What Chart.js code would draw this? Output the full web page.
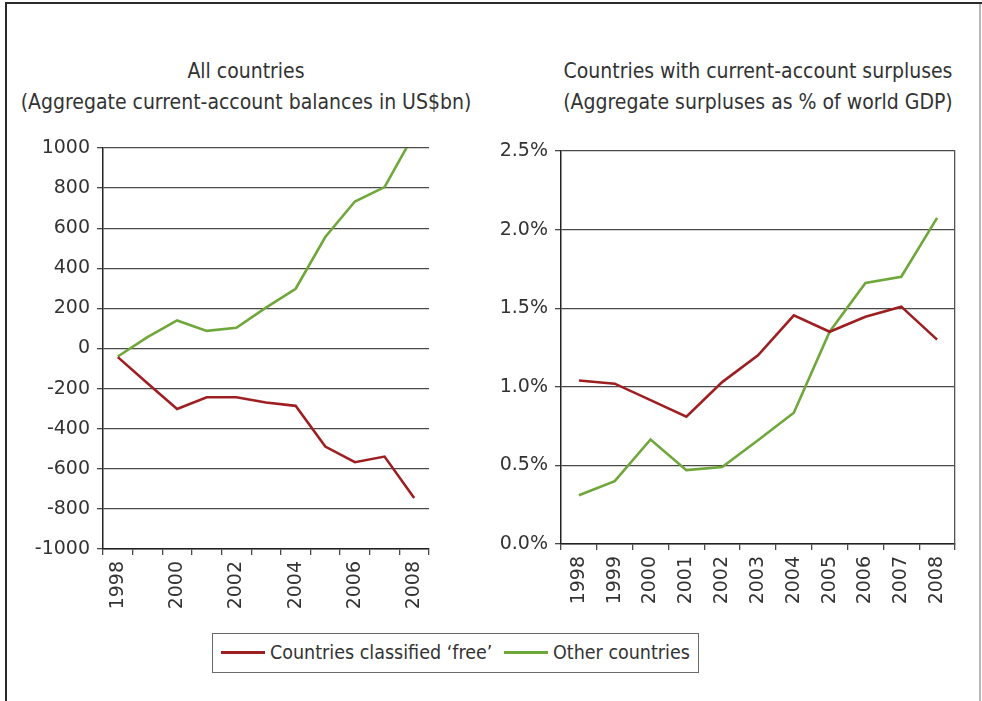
<!DOCTYPE html>
<html>
<head>
<meta charset="utf-8">
<script src="https://cdn.jsdelivr.net/npm/chart.js@4.4.1/dist/chart.umd.min.js"></script>
<style>
    html, body { margin: 0; padding: 0; background: #fff; }
    #frame {
        position: absolute; left: 0; top: 0; width: 982px; height: 701px; overflow: hidden;
    }
    .edge-left { position: absolute; left: 5px; top: 2px; width: 2px; height: 699px; background: #2b2b2b; }
    .edge-top { position: absolute; left: 5px; top: 2px; width: 977px; height: 2px; background: #2b2b2b; }
    .edge-right { position: absolute; left: 979px; top: 4px; width: 2px; height: 697px; background: #b5b5b5; }
    .title {
        position: absolute; top: 56px; width: 500px; text-align: center;
        font-family: "Liberation Sans Narrow", "DejaVu Sans Condensed", sans-serif;
        font-size: 21px; line-height: 31px; color: #333;
    }
    .chart-box { position: absolute; top: 120px; height: 510px; }
    #legend {
        position: absolute; left: 212px; top: 633px; width: 485px; height: 38px;
        border: 1.5px solid #6a6a6a; box-sizing: content-box;
        font-family: "Liberation Sans Narrow", "DejaVu Sans Condensed", sans-serif;
        font-size: 19.5px; color: #333;
    }
    .lg-item { position: absolute; top: 0; height: 38px; line-height: 38px; white-space: nowrap; }
    .lg-line { display: inline-block; width: 44px; height: 3px; vertical-align: middle; margin-right: 5px; position: relative; top: -1px; }
</style>
</head>
<body>
<div id="frame">
    <div class="edge-left"></div>
    <div class="edge-top"></div>
    <div class="edge-right"></div>

    <div class="title" style="left: -4px;">All countries<br>(Aggregate current-account balances in US$bn)</div>
    <div class="title" style="left: 508px;">Countries with current-account surpluses<br>(Aggregate surpluses as % of world GDP)</div>

    <div class="chart-box" style="left: 0; width: 470px;"><canvas id="leftChart" width="470" height="510"></canvas></div>
    <div class="chart-box" style="left: 470px; width: 512px;"><canvas id="rightChart" width="512" height="510"></canvas></div>

    <div id="legend"></div>
</div>

<script>
// ===== dados =====
const years = ['1998', '1999', '2000', '2001', '2002', '2003', '2004', '2005', '2006', '2007', '2008'];

// US$bn
const freeBalances = [-43, -173, -302, -243, -243, -269, -286, -489, -567, -539, -746];
const otherBalances = [-40, 57, 140, 88, 103, 204, 298, 556, 733, 805, 1070];

// % do PIB mundial
const freeSurplus = [1.04, 1.02, 0.915, 0.81, 1.03, 1.20, 1.455, 1.35, 1.445, 1.51, 1.30];
const otherSurplus = [0.31, 0.40, 0.665, 0.47, 0.49, 0.66, 0.835, 1.35, 1.66, 1.70, 2.075];

const seriesNames = ['Countries classified \u2018free\u2019', 'Other countries'];
const seriesColors = ['#9e1f22', '#6fa73b'];

const leftTicks = { min: -1000, max: 1000, step: 200 };
const rightTicks = { min: 0, max: 2.5, step: 0.5 };

// ===== estilo comum =====
const tickFont = { family: 'DejaVu Sans', size: 19 };
const gridColor = '#4a4a4a';

function lineDataset(label, data, color) {
    return {
        label: label,
        data: data,
        borderColor: color,
        backgroundColor: color,
        borderWidth: 2.6,
        pointRadius: 0,
        tension: 0,
        fill: false
    };
}

function xAxis(everyOther, height) {
    return {
        type: 'category',
        offset: true,
        grid: { offset: true, drawOnChartArea: false, drawTicks: true, tickLength: 6, color: gridColor, lineWidth: 1.3 },
        border: { display: true, color: '#222', width: 1.5 },
        ticks: {
            autoSkip: false,
            maxRotation: 90,
            minRotation: 90,
            padding: 6,
            color: '#333',
            font: tickFont,
            callback: function (val, i) {
                return (everyOther && i % 2 === 1) ? '' : years[i];
            }
        },
        afterFit: function (scale) { scale.height = height; }
    };
}

function yAxis(range, width, fmt) {
    return {
        min: range.min,
        max: range.max,
        grid: { drawTicks: true, tickLength: 6, color: gridColor, lineWidth: 1.3 },
        border: { display: true, color: '#222', width: 1.5 },
        ticks: {
            stepSize: range.step,
            padding: 7,
            color: '#333',
            font: tickFont,
            callback: fmt
        },
        afterFit: function (scale) { scale.width = width; }
    };
}

const commonOptions = {
    responsive: false,
    animation: false,
    plugins: { legend: { display: false }, tooltip: { enabled: false } }
};

// ===== grafico esquerdo =====
new Chart(document.getElementById('leftChart'), {
    type: 'line',
    data: {
        labels: years,
        datasets: [
            lineDataset(seriesNames[0], freeBalances, seriesColors[0]),
            lineDataset(seriesNames[1], otherBalances, seriesColors[1])
        ]
    },
    options: Object.assign({}, commonOptions, {
        layout: { padding: { top: 28, right: 41, bottom: 0, left: 0 } },
        scales: {
            x: xAxis(true, 81),
            y: yAxis(leftTicks, 103, function (v) { return String(v); })
        }
    })
});

// ===== grafico direito =====
new Chart(document.getElementById('rightChart'), {
    type: 'line',
    data: {
        labels: years,
        datasets: [
            lineDataset(seriesNames[0], freeSurplus, seriesColors[0]),
            lineDataset(seriesNames[1], otherSurplus, seriesColors[1])
        ]
    },
    options: Object.assign({}, commonOptions, {
        layout: { padding: { top: 31, right: 26, bottom: 0, left: 0 } },
        scales: {
            x: xAxis(false, 86),
            y: yAxis(rightTicks, 91, function (v) { return v.toFixed(1) + '%'; }),
            // só para desenhar a borda direita
            y2: {
                position: 'right',
                min: rightTicks.min,
                max: rightTicks.max,
                grid: { drawOnChartArea: false, drawTicks: false },
                border: { display: true, color: '#555', width: 1.3 },
                ticks: { display: false },
                afterFit: function (scale) { scale.width = 1; }
            }
        }
    })
});

// ===== legenda =====
const legend = document.getElementById('legend');
const legendLeft = [8, 291];
seriesNames.forEach(function (name, i) {
    const item = document.createElement('div');
    item.className = 'lg-item';
    item.style.left = legendLeft[i] + 'px';
    item.innerHTML = '<span class="lg-line" style="background:' + seriesColors[i] + '"></span>' + name;
    legend.appendChild(item);
});
</script>
</body>
</html>
